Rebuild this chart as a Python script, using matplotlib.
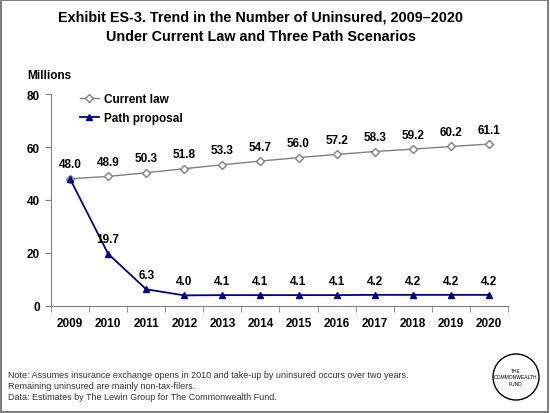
import matplotlib
matplotlib.use("Agg")
import matplotlib.pyplot as plt
from matplotlib.patches import Rectangle, Circle

plt.rcParams['font.family'] = ['Liberation Sans', 'DejaVu Sans']

years = ['2009', '2010', '2011', '2012', '2013', '2014', '2015', '2016', '2017', '2018', '2019', '2020']
current_law = [48.0, 48.9, 50.3, 51.8, 53.3, 54.7, 56.0, 57.2, 58.3, 59.2, 60.2, 61.1]
path_proposal = [48.0, 19.7, 6.3, 4.0, 4.1, 4.1, 4.1, 4.1, 4.2, 4.2, 4.2, 4.2]

fig = plt.figure(figsize=(5.5, 4.14), dpi=100)
ax = fig.add_axes([0.0927, 0.2585, 0.8309, 0.512])

x = list(range(len(years)))
ax.plot(x, current_law, color='#808080', lw=1, marker='D', ms=4,
        mfc='white', mec='#808080', label='Current law')
ax.plot(x, path_proposal, color='#000080', lw=1.3, marker='^', ms=5,
        mfc='#000080', mec='#000080', label='Path proposal')

# labels above points (first current-law value coincides with path value)
for i, v in enumerate(current_law):
    if i == 0:
        continue
    ax.annotate(f'{v:.1f}', (i, v), xytext=(0, 6), textcoords='offset points',
                ha='center', va='bottom', fontsize=8.5, fontweight='bold')
for i, v in enumerate(path_proposal):
    ax.annotate(f'{v:.1f}', (i, v), xytext=(0, 6), textcoords='offset points',
                ha='center', va='bottom', fontsize=8.5, fontweight='bold')

ax.set_xlim(-0.5, len(years) - 0.5)
ax.set_ylim(0, 80)
ax.set_yticks([0, 20, 40, 60, 80])
ax.set_xticks(x)
ax.set_xticklabels(years, fontsize=8.5, fontweight='bold')
ax.set_xticks([i - 0.5 for i in range(len(years) + 1)], minor=True)
ax.tick_params(axis='x', which='major', length=0, pad=8)
ax.tick_params(axis='x', which='minor', length=4, direction='out', color='#808080')
ax.tick_params(axis='y', length=4, direction='out', color='#808080',
               labelsize=8.5, pad=4)
for t in ax.get_yticklabels():
    t.set_fontweight('bold')
for s in ['top', 'right']:
    ax.spines[s].set_visible(False)
for s in ['left', 'bottom']:
    ax.spines[s].set_color('#808080')

ax.legend(loc='upper left', bbox_to_anchor=(0.04, 1.055), frameon=False,
          prop={'size': 8.5, 'weight': 'bold'}, handlelength=1.6,
          handletextpad=0.4, labelspacing=0.6)

fig.text(0.4745, 0.975, 'Exhibit ES-3. Trend in the Number of Uninsured, 2009\u20132020\n'
         'Under Current Law and Three Path Scenarios', ha='center', va='top',
         fontsize=10.4, fontweight='bold', linespacing=1.5)
fig.text(0.05, 0.808, 'Millions', fontsize=8.5, fontweight='bold')

fig.text(0.015, 0.105, 'Note: Assumes insurance exchange opens in 2010 and take-up by uninsured occurs over two years.\n'
         'Remaining uninsured are mainly non-tax-filers.\n'
         'Data: Estimates by The Lewin Group for The Commonwealth Fund.',
         ha='left', va='top', fontsize=6.5, color='#333333', linespacing=1.3)

logo = Circle((516 / 100, (414 - 378) / 100), 0.23, transform=fig.dpi_scale_trans,
              fill=False, lw=1, ec='black')
fig.patches.append(logo)
fig.text(516 / 550, 1 - 378 / 414, 'THE\nCOMMONWEALTH\nFUND', ha='center', va='center',
         fontsize=3.6, linespacing=1.3)

fig.patches.append(Rectangle((0.002, 0.002), 0.995, 0.995, transform=fig.transFigure,
                             fill=False, ec='#808080', lw=1.5))

fig.savefig('out.png', dpi=100)
